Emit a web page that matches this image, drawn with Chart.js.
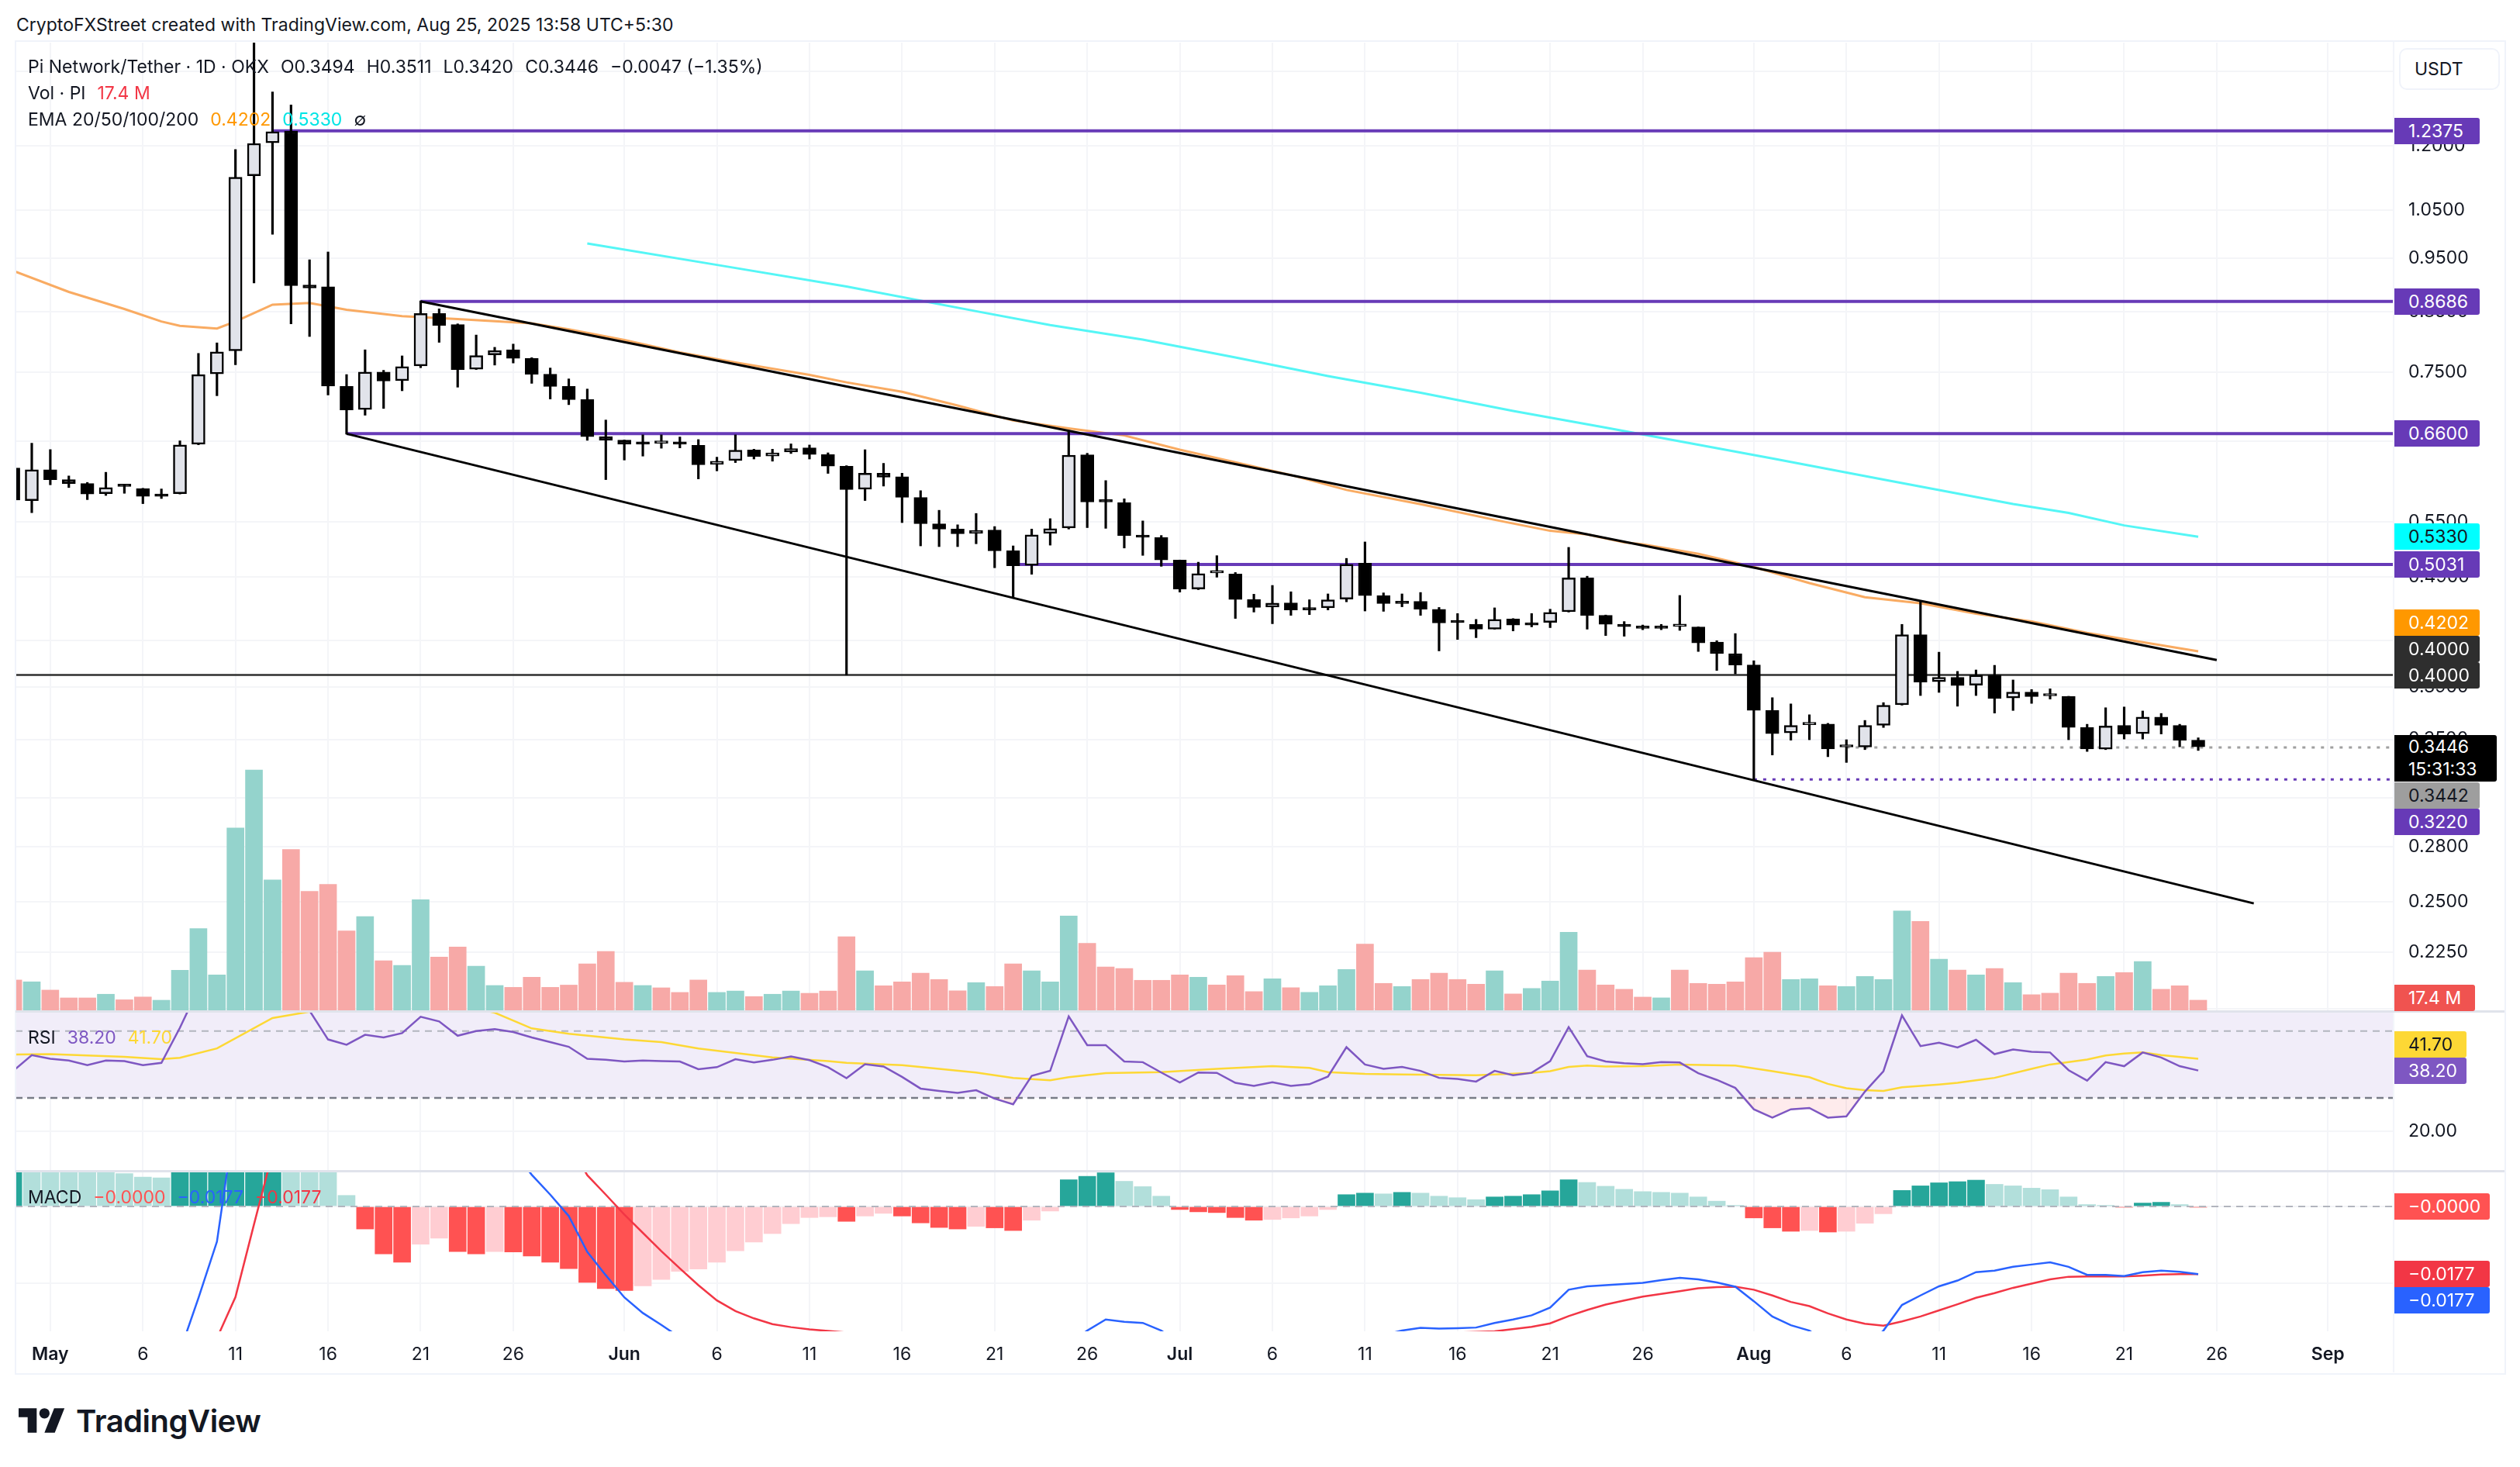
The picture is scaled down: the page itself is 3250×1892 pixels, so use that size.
<!DOCTYPE html>
<html>
<head>
<meta charset="utf-8">
<title>Pi Network/Tether</title>
<script src="https://cdn.jsdelivr.net/npm/chart.js@4/dist/chart.umd.js"></script>
<style>
    html, body { margin: 0; padding: 0; background: #fff; }
    body { width: 3250px; height: 1892px; position: relative; overflow: hidden; font-family: Inter, sans-serif; font-size: 23px; color: #131722; }
    canvas { position: absolute; left: 0; }
    .abs { position: absolute; white-space: nowrap; line-height: 30px; }
    .abs span { margin-left: 15px; }
    .frame { position: absolute; left: 19px; top: 52px; width: 3209px; height: 1717px; border: 2px solid #F0F3FA; }
    .rule { position: absolute; left: 20px; width: 3210px; height: 3px; background: #E0E3EB; }
    .axisline { position: absolute; left: 3086px; top: 54px; width: 2px; height: 1716px; background: #F3F5FA; }
    .usdt { position: absolute; left: 3094px; top: 62px; width: 126px; height: 50px; border: 2px solid #F0F3FA; border-radius: 10px; line-height: 50px; text-indent: 18px; background: #fff; }
    .tag { position: absolute; left: 3088px; height: 34px; line-height: 34px; border-radius: 0 3px 3px 0; padding-left: 18px; box-sizing: border-box; }
    .brand { position: absolute; left: 98px; top: 1810px; font-size: 40px; font-weight: 600; line-height: 46px; letter-spacing: -0.5px; color: #131722; }
</style>
</head>
<body>
<canvas id="priceChart" width="3230" height="1250" style="top:55px"></canvas>
<canvas id="rsiChart" width="3230" height="206" style="top:1305px"></canvas>
<canvas id="macdChart" width="3230" height="260" style="top:1511px"></canvas>
<div class="frame"></div>
<div class="axisline"></div>
<div class="rule" style="top:1303px"></div>
<div class="rule" style="top:1509px"></div>
<div class="usdt">USDT</div>
<div class="abs" style="left:21px;top:17px">CryptoFXStreet created with TradingView.com, Aug 25, 2025 13:58 UTC+5:30</div>
<div class="abs" style="left:36px;top:71px">Pi Network/Tether · 1D · OKX<span>O0.3494</span><span>H0.3511</span><span>L0.3420</span><span>C0.3446</span><span>−0.0047 (−1.35%)</span></div>
<div class="abs" style="left:36px;top:105px">Vol · PI<span style="color:#F23645">17.4 M</span></div>
<div class="abs" style="left:36px;top:139px">EMA 20/50/100/200<span style="color:#FF9800">0.4202</span><span style="color:#00E5E5">0.5330</span><span>∅</span></div>
<div class="abs" style="left:36px;top:1323px">RSI<span style="color:#7E57C2">38.20</span><span style="color:#FDD835">41.70</span></div>
<div class="abs" style="left:36px;top:1529px">MACD<span style="color:#FF5252">−0.0000</span><span style="color:#2962FF">−0.0177</span><span style="color:#F23645">−0.0177</span></div>
<svg style="position:absolute;left:24px;top:1816px" width="60" height="32" viewBox="0 0 36 19">
    <path d="M14 19H7V7H0V0h14v19zM28 19h-8l7.5-19h8L28 19z" fill="#131722"/>
    <circle cx="20" cy="4" r="4" fill="#131722"/>
</svg>
<div class="brand">TradingView</div>
<script>
// x values are day numbers, Apr 30 = 0, first candle is Apr 29
const firstDay = -1;
const tickDays = [1, 6, 11, 16, 21, 26, 32, 37, 42, 47, 52, 57, 62, 67, 72, 77, 82, 87, 93, 98, 103, 108, 113, 118, 124];
const tickLabels = ['May', '6', '11', '16', '21', '26', 'Jun', '6', '11', '16', '21', '26', 'Jul', '6', '11', '16', '21', '26', 'Aug', '6', '11', '16', '21', '26', 'Sep'];
const monthLabels = ['May', 'Jun', 'Jul', 'Aug', 'Sep'];
const priceTicks = [1.4, 1.2, 1.05, 0.95, 0.85, 0.75, 0.65, 0.55, 0.49, 0.43, 0.39, 0.35, 0.31, 0.28, 0.25, 0.225, 0.2];

const opens = [0.6147, 0.5744,
    0.6124, 0.6000, 0.5952, 0.5827, 0.5923, 0.5889, 0.5823, 0.5827, 0.6457, 0.7473, 0.7838, 1.1272, 1.2073, 1.2369, 0.8985, 0.8952, 0.7280, 0.6940, 0.7500, 0.7368, 0.7597, 0.8470, 0.8278, 0.7545, 0.7774, 0.7855, 0.7717, 0.7467, 0.7280, 0.7083, 0.6560,
    0.6512, 0.6466, 0.6471, 0.6466, 0.6442, 0.6192, 0.6243, 0.6381, 0.6300, 0.6353, 0.6410, 0.6320, 0.6170, 0.5881, 0.6080, 0.6035, 0.5783, 0.5475, 0.5415, 0.5367, 0.5403, 0.5176, 0.5022, 0.5367, 0.5427, 0.6317, 0.5736, 0.5720, 0.5343, 0.5319,
    0.5078, 0.4782, 0.4944, 0.4933, 0.4679, 0.4605, 0.4646, 0.4595, 0.4598, 0.4683, 0.5044, 0.4716, 0.4660, 0.4660, 0.4585, 0.4465, 0.4443, 0.4399, 0.4492, 0.4456, 0.4462, 0.4561, 0.4893, 0.4527, 0.4443, 0.4420, 0.4424, 0.4424, 0.4420, 0.4282, 0.4181,
    0.4084, 0.3716, 0.3547, 0.3608, 0.3613, 0.3444, 0.3444, 0.3603, 0.3760, 0.4349, 0.3945, 0.3980, 0.3916, 0.3998, 0.3813, 0.3861, 0.3830, 0.3827, 0.3587, 0.3429, 0.3603, 0.3541, 0.3666, 0.3603, 0.3494];
const highs = [0.6147, 0.6471,
    0.6386, 0.6046, 0.5965, 0.6092, 0.5944, 0.5893, 0.5885, 0.6503, 0.7797, 0.7969, 1.1904, 1.66, 1.3417, 1.3056, 0.9469, 0.9624, 0.7462, 0.7855, 0.7528, 0.7757, 0.8695, 0.8552, 0.8290, 0.8100, 0.7896, 0.7949, 0.7728, 0.7564, 0.7395, 0.7241, 0.6790,
    0.6515, 0.6584, 0.6584, 0.6555, 0.6520, 0.6286, 0.6584, 0.6391, 0.6391, 0.6462, 0.6447, 0.6343, 0.6175, 0.6384, 0.6206, 0.6080, 0.5864, 0.5630, 0.5463, 0.5593, 0.5443, 0.5229, 0.5415, 0.5533, 0.6644, 0.6337, 0.5988, 0.5766, 0.5507, 0.5343,
    0.5078, 0.5055, 0.5124, 0.4948, 0.4730, 0.4817, 0.4754, 0.4676, 0.4733, 0.5095, 0.5272, 0.4743, 0.4733, 0.4747, 0.4602, 0.4544, 0.4489, 0.4598, 0.4497, 0.4544, 0.4585, 0.5213, 0.4910, 0.4530, 0.4469, 0.4437, 0.4443, 0.4718, 0.4420, 0.4295, 0.4359,
    0.4120, 0.3816, 0.3767, 0.3683, 0.3618, 0.3497, 0.3640, 0.3777, 0.4443, 0.4666, 0.4194, 0.4030, 0.4042, 0.4081, 0.3959, 0.3881, 0.3887, 0.3827, 0.3611, 0.3737, 0.3743, 0.3712, 0.3693, 0.3611, 0.3511];
const lows = [0.5752, 0.5602,
    0.5936, 0.5902, 0.5756, 0.5806, 0.5832, 0.5708, 0.5769, 0.5823, 0.6450, 0.7141, 0.7615, 0.9025, 0.9984, 0.8290, 0.8075, 0.7152, 0.6594, 0.6858, 0.6955, 0.7215, 0.7569, 0.7978, 0.7269, 0.7540, 0.7610, 0.7643, 0.7327, 0.7093, 0.7010, 0.6510, 0.6000,
    0.6249, 0.6300, 0.6404, 0.6408, 0.6009, 0.6110, 0.6216, 0.6262, 0.6234, 0.6334, 0.6262, 0.6078, 0.4000, 0.5745, 0.5920, 0.5488, 0.5229, 0.5221, 0.5221, 0.5252, 0.4997, 0.4702, 0.4930, 0.5237, 0.5415, 0.5431, 0.5423, 0.5206, 0.5127, 0.5012,
    0.4751, 0.4775, 0.4900, 0.4498, 0.4558, 0.4449, 0.4527, 0.4534, 0.4578, 0.4656, 0.4568, 0.4565, 0.4608, 0.4527, 0.4205, 0.4306, 0.4322, 0.4399, 0.4383, 0.4420, 0.4413, 0.4558, 0.4399, 0.4341, 0.4335, 0.4394, 0.4394, 0.4388, 0.4200, 0.4038, 0.4009,
    0.3220, 0.3388, 0.3494, 0.3497, 0.3376, 0.3336, 0.3426, 0.3587, 0.3757, 0.3833, 0.3858, 0.3749, 0.3833, 0.3696, 0.3716, 0.3771, 0.3805, 0.3497, 0.3413, 0.3426, 0.3502, 0.3502, 0.3539, 0.3446, 0.3420];
const closes = [0.5752, 0.6124,
    0.6000, 0.5952, 0.5823, 0.5902, 0.5915, 0.5795, 0.5795, 0.6447, 0.7462, 0.7820, 1.1240, 1.2055, 1.2351, 0.8972, 0.8932, 0.7285, 0.6935, 0.7500, 0.7363, 0.7587, 0.8470, 0.8265, 0.7540, 0.7763, 0.7843, 0.7717, 0.7467, 0.7280, 0.7083, 0.6560, 0.6512,
    0.6457, 0.6457, 0.6480, 0.6457, 0.6188, 0.6234, 0.6377, 0.6295, 0.6343, 0.6400, 0.6320, 0.6170, 0.5877, 0.6080, 0.6031, 0.5783, 0.5475, 0.5415, 0.5363, 0.5399, 0.5176, 0.5018, 0.5351, 0.5419, 0.6313, 0.5728, 0.5728, 0.5343, 0.5323, 0.5078,
    0.4782, 0.4937, 0.4951, 0.4679, 0.4602, 0.4643, 0.4578, 0.4578, 0.4676, 0.5033, 0.4716, 0.4639, 0.4639, 0.4585, 0.4456, 0.4459, 0.4399, 0.4489, 0.4436, 0.4436, 0.4554, 0.4893, 0.4527, 0.4443, 0.4423, 0.4407, 0.4407, 0.4430, 0.4276, 0.4181, 0.4084,
    0.3716, 0.3541, 0.3603, 0.3616, 0.3431, 0.3451, 0.3603, 0.3757, 0.4349, 0.3942, 0.3980, 0.3913, 0.3998, 0.3810, 0.3861, 0.3824, 0.3836, 0.3587, 0.3431, 0.3598, 0.3539, 0.3666, 0.3603, 0.3494, 0.3446];

// volume in millions, volumeUp 1 = teal bar, 0 = red bar
const volumes = [52.0, 48.9,
    34.7, 21.3, 21.3, 27.6, 18.1, 22.9, 17.3, 68.6, 140.3, 60.7, 312.8, 412.1, 223.8, 275.8, 204.1, 215.9, 136.3, 160.8, 85.1, 77.2, 189.9, 91.4, 108.7, 75.6, 42.6, 39.4, 56.7, 39.4, 43.3, 79.6, 100.9,
    48.1, 42.6, 38.6, 30.7, 52.0, 30.7, 33.1, 23.6, 27.6, 33.1, 29.2, 33.1, 126.1, 67.6, 42.1, 48.8, 63.6, 52.9, 33.5, 47.5, 40.8, 79.6, 67.6, 48.8, 161.9, 115.1, 74.3, 71.6, 51.5, 51.5,
    60.9, 56.9, 43.5, 59.5, 32.1, 54.2, 38.8, 30.8, 42.1, 70.2, 113.7, 46.2, 40.8, 52.9, 63.6, 52.9, 44.8, 67.6, 28.1, 37.5, 50.2, 133.8, 68.9, 43.5, 36.1, 22.7, 21.4, 68.9, 46.2, 44.8, 48.8,
    90.3, 99.7, 52.9, 54.2, 42.1, 40.8, 58.2, 52.9, 170.6, 152.5, 87.6, 68.9, 60.9, 71.6, 47.5, 26.8, 29.4, 63.6, 46.2, 58.2, 64.9, 83.6, 36.1, 42.1, 17.4];
const volumeUp = [0, 1,
    0, 0, 0, 1, 0, 0, 1, 1, 1, 1, 1, 1, 1, 0, 0, 0, 0, 1, 0, 1, 1, 0, 0, 1, 1, 0, 0, 0, 0, 0, 0,
    0, 1, 0, 0, 0, 1, 1, 0, 1, 1, 0, 0, 0, 1, 0, 0, 0, 0, 0, 1, 0, 0, 1, 1, 1, 0, 0, 0, 0, 0,
    0, 1, 0, 0, 0, 1, 0, 1, 1, 1, 0, 0, 1, 0, 0, 0, 0, 1, 0, 1, 1, 1, 0, 0, 0, 0, 1, 0, 0, 0, 0,
    0, 0, 1, 1, 0, 1, 1, 1, 1, 0, 1, 0, 1, 0, 1, 0, 0, 0, 0, 1, 0, 1, 0, 0, 0];

const ema50Days = [-1, 2, 5, 7, 8, 10, 11, 13, 15, 17, 20, 23, 27, 29, 32, 35, 38, 42, 44, 47, 50, 53, 56, 59, 62, 65, 68, 71, 75, 79, 82, 84, 86, 87, 90, 93, 96, 99, 102, 105, 108, 111, 114, 117];
const ema50Values = [0.9255, 0.8858, 0.8550, 0.8331, 0.8257, 0.8209, 0.8331, 0.8626, 0.8657, 0.8537, 0.8423, 0.8374, 0.8299, 0.8197, 0.8017, 0.7812, 0.7652, 0.7457, 0.7342, 0.7201, 0.6997, 0.6783, 0.6674, 0.6576, 0.6384, 0.6221, 0.6058, 0.5873, 0.5702, 0.5520, 0.5395, 0.5354, 0.5268, 0.5247, 0.5143, 0.5005, 0.4841, 0.4700, 0.4642, 0.4543, 0.4470, 0.4365, 0.4282, 0.4202];
const ema200Days = [30, 37, 44, 51, 55, 60, 65, 70, 75, 80, 85, 94, 100, 107, 110, 113, 117];
const ema200Values = [0.9795, 0.9369, 0.8957, 0.8510, 0.8268, 0.8022, 0.7731, 0.7439, 0.7185, 0.6920, 0.6683, 0.6270, 0.6000, 0.5704, 0.5600, 0.5456, 0.5330];

const levelValues = [1.2375, 0.8686, 0.66, 0.5031];
const levelStartDays = [13, 21, 17, 53];
const upperTrendDays = [21, 118];
const upperTrendValues = [0.8686, 0.4126];
const lowerTrendDays = [17, 120];
const lowerTrendValues = [0.66, 0.249];
const supportValue = 0.4;
const swingLowValue = 0.322;
const swingLowStart = 93;
const lastLineValue = 0.3442;
const lastLineStart = 98;

const rsiValues = [38.1, 42.8, 41.7, 41.2, 39.8, 41.2, 41.0, 39.8, 40.5, 51.0, 62.7, 65.0, 74.0, 72.0, 72.0, 62.0, 56.1, 47.5, 45.9, 48.9, 48.1, 49.4, 54.3, 52.9, 48.6, 50.0, 50.6, 49.7, 48.1, 46.7, 45.3, 41.7, 41.4, 40.9, 41.2, 41.0, 40.9, 38.6, 39.2, 41.6, 40.6, 41.4, 42.4, 41.3, 39.2, 35.9,
    40.1, 39.4, 36.3, 32.8, 32.1, 31.5, 32.3, 29.8, 28.1, 36.6, 38.1, 54.4, 45.8, 45.8, 40.9, 40.7, 37.6, 34.6, 37.6, 37.5, 34.5, 33.6, 34.7, 33.6, 34.1, 36.4, 45.2, 40.0, 38.7, 39.3, 38.1, 36.0, 35.7, 34.9, 38.1, 36.8, 37.5, 41.0, 51.2, 42.5, 40.9, 40.4, 40.1, 40.7, 40.6,
    37.4, 35.4, 33.0, 26.6, 24.1, 26.6, 27.0, 24.1, 24.5, 31.9, 38.0, 54.7, 45.5, 46.5, 45.1, 47.4, 43.1, 44.5, 43.8, 43.6, 38.3, 35.2, 40.7, 39.5, 43.6, 42.1, 39.5, 38.2];
const rsiMaDays = [-1, 1, 5, 7, 8, 10, 13, 15, 17, 20, 23, 25, 27, 29, 32, 34, 36, 40, 43, 44, 47, 49, 51, 53, 55, 56, 58, 61, 64, 67, 69, 70, 72, 74, 78, 81, 82, 83, 84, 85, 87, 89, 92, 94, 96, 97, 98, 99, 100, 101, 103, 104, 105, 106, 108, 109, 111, 112, 113, 114, 115, 117];
const rsiMaValues = [43.0, 43.1, 42.3, 41.6, 42.0, 44.8, 53.9, 55.8, 58.0, 59.0, 58.0, 55.5, 50.8, 49.2, 47.5, 46.7, 44.8, 42.1, 41.0, 40.5, 39.8, 38.7, 37.6, 36.0, 35.3, 36.2, 37.4, 37.7, 38.7, 39.5, 39.0, 37.7, 37.2, 37.0, 36.8, 37.5, 38.0, 39.3, 39.7, 39.4, 39.5, 40.0, 39.7, 38.0, 36.2, 34.2, 32.9, 32.3, 32.1, 33.2, 34.0, 34.5, 35.3, 36.0, 38.7, 40.0, 41.5, 42.7, 43.3, 43.6, 42.8, 41.7];
const rsiTicks = [40, 20];
const rsiUpperBand = 50;
const rsiLowerBand = 30;

const macdHist = [0.0120, 0.0115, 0.0110, 0.0105, 0.0100, 0.0098, 0.0086, 0.0077, 0.0075, 0.0140, 0.0180, 0.0220, 0.0280, 0.0340, 0.0360, 0.0300, 0.0200, 0.0100, 0.0029, -0.0059, -0.0124, -0.0146, -0.0099, -0.0083, -0.0118, -0.0124, -0.0118, -0.0119, -0.0130, -0.0146, -0.0163, -0.0199, -0.0215, -0.0220, -0.0208, -0.0191, -0.0170, -0.0164, -0.0146, -0.0116, -0.0093, -0.0071, -0.0045, -0.0029, -0.0027, -0.0039,
    -0.0025, -0.0018, -0.0025, -0.0043, -0.0055, -0.0059, -0.0052, -0.0056, -0.0063, -0.0036, -0.0012, 0.0070, 0.0079, 0.0088, 0.0066, 0.0052, 0.0027, -0.0008, -0.0014, -0.0016, -0.0029, -0.0036, -0.0034, -0.0030, -0.0025, -0.0008, 0.0031, 0.0035, 0.0033, 0.0037, 0.0035, 0.0027, 0.0023, 0.0018, 0.0025, 0.0027, 0.0031, 0.0041, 0.0070, 0.0063, 0.0053, 0.0045, 0.0039, 0.0037, 0.0035,
    0.0025, 0.0014, 0.0003, -0.0030, -0.0056, -0.0065, -0.0063, -0.0067, -0.0065, -0.0044, -0.0019, 0.0042, 0.0054, 0.0062, 0.0065, 0.0069, 0.0058, 0.0054, 0.0048, 0.0044, 0.0025, 0.0005, 0.0003, -0.0002, 0.0009, 0.0011, 0.0005, -0.0002];
const macdLineDays = [7, 8, 9, 10, 11, 12, 13, 20, 26, 27, 28, 29, 30, 31, 32, 33, 34, 35, 40, 45, 50, 55, 56, 57, 58, 59, 60, 61, 62, 65, 70, 74, 75, 76, 77, 78, 79, 80, 81, 82, 83, 84, 85, 86, 87, 88, 89, 90, 91, 92, 93, 94, 95, 96, 97, 98, 99, 100, 101, 102, 103, 104, 105, 106, 107, 108, 109, 110, 111, 112, 113, 114, 115, 116, 117];
const macdLineValues = [-0.0400, -0.0380, -0.0240, -0.0092, 0.0243, 0.0340, 0.0400, 0.0400, 0.0146, 0.0083, 0.0031, -0.0025, -0.0119, -0.0180, -0.0238, -0.0279, -0.0310, -0.0343, -0.0420, -0.0450, -0.0450, -0.0370, -0.0360, -0.0325, -0.0296, -0.0302, -0.0305, -0.0325, -0.0360, -0.0400, -0.0370, -0.0325, -0.0318, -0.0320, -0.0319, -0.0317, -0.0305, -0.0296, -0.0285, -0.0265, -0.0218, -0.0209, -0.0206, -0.0203, -0.0200, -0.0193, -0.0187, -0.0191, -0.0199, -0.0210, -0.0248, -0.0288, -0.0311, -0.0325, -0.0360, -0.0380, -0.0370, -0.0325, -0.0258, -0.0233, -0.0209, -0.0194, -0.0172, -0.0168, -0.0158, -0.0152, -0.0146, -0.0158, -0.0179, -0.0179, -0.0182, -0.0172, -0.0168, -0.0171, -0.0177];
const macdSignalDays = [9, 10, 11, 12, 13, 14, 20, 29, 30, 31, 32, 33, 34, 35, 36, 37, 38, 39, 40, 41, 42, 43, 44, 50, 60, 70, 79, 81, 82, 83, 84, 85, 86, 87, 88, 89, 90, 91, 92, 93, 94, 95, 96, 97, 98, 99, 100, 101, 102, 103, 104, 105, 106, 107, 108, 109, 110, 111, 112, 113, 114, 115, 116, 117];
const macdSignalValues = [-0.0440, -0.0345, -0.0237, -0.0047, 0.0140, 0.0300, 0.0500, 0.0165, 0.0082, 0.0031, -0.0021, -0.0069, -0.0117, -0.0162, -0.0206, -0.0246, -0.0274, -0.0293, -0.0308, -0.0316, -0.0322, -0.0326, -0.0330, -0.0345, -0.0350, -0.0340, -0.0327, -0.0315, -0.0306, -0.0287, -0.0271, -0.0257, -0.0246, -0.0236, -0.0229, -0.0222, -0.0214, -0.0211, -0.0210, -0.0218, -0.0233, -0.0250, -0.0261, -0.0280, -0.0296, -0.0307, -0.0312, -0.0301, -0.0288, -0.0272, -0.0256, -0.0239, -0.0227, -0.0213, -0.0202, -0.0191, -0.0184, -0.0183, -0.0183, -0.0183, -0.0181, -0.0178, -0.0177, -0.0177];
const macdTicks = [0, -0.02];

const xMin = -0.879;
const xMax = 127.51;
const gridColor = '#F4F5F8';
const fontFamily = 'Inter';
const textColor = '#131722';

Chart.defaults.font.family = fontFamily;
Chart.defaults.font.size = 23;
Chart.defaults.color = textColor;

const points = (xs, ys) => xs.map((x, i) => ({ x, y: ys[i] }));
const series = values => values.map((y, i) => ({ x: i + firstDay, y }));
const hline = (value, start) => [{ x: start, y: value }, { x: xMax, y: value }];

const lineSet = (data, color, width, order, extra) => ({
    type: 'line',
    data,
    borderColor: color,
    borderWidth: width,
    pointRadius: 0,
    tension: 0,
    fill: false,
    order,
    ...extra,
});

const xAxis = showLabels => ({
    type: 'linear',
    min: xMin,
    max: xMax,
    offset: false,
    grid: { color: gridColor, lineWidth: 2, drawTicks: false, offset: false },
    border: { display: false },
    afterBuildTicks: scale => { scale.ticks = tickDays.map(value => ({ value })); },
    afterFit: scale => {
        scale.height = showLabels ? 54 : 0;
        scale.paddingLeft = 0;
        scale.paddingRight = 0;
    },
    ticks: {
        display: showLabels,
        autoSkip: false,
        maxRotation: 0,
        padding: 16,
        callback: value => tickLabels[tickDays.indexOf(value)],
        font: ctx => {
            const label = ctx.tick ? tickLabels[tickDays.indexOf(ctx.tick.value)] : '';
            return { family: fontFamily, size: 23, weight: monthLabels.includes(label) ? '600' : '400' };
        },
    },
});

const rightAxis = (min, max, tickValues, digits) => ({
    type: 'linear',
    position: 'right',
    min,
    max,
    grid: { color: gridColor, lineWidth: 2, drawTicks: false },
    border: { display: false },
    afterBuildTicks: scale => { scale.ticks = tickValues.map(value => ({ value })); },
    afterFit: scale => {
        scale.width = 144;
        scale.paddingTop = 0;
        scale.paddingBottom = 0;
    },
    ticks: {
        autoSkip: false,
        padding: 20,
        callback: value => value.toFixed(digits),
    },
});

const baseOptions = scales => ({
    responsive: false,
    animation: false,
    devicePixelRatio: 1,
    layout: { padding: { left: 20, right: 0, top: 0, bottom: 0 } },
    plugins: { legend: { display: false }, tooltip: { enabled: false } },
    events: [],
    scales,
});

const barSet = (data, width, colors, order, extra) => ({
    type: 'bar',
    data,
    backgroundColor: colors,
    grouped: false,
    barPercentage: 1,
    categoryPercentage: 1,
    maxBarThickness: width,
    order,
    ...extra,
});

const priceChart = new Chart(document.getElementById('priceChart'), {
    type: 'bar',
    data: {
        datasets: [
            barSet(series(volumes), 22, volumeUp.map(up => (up ? '#94D3CC' : '#F7A9A7')), 20, { yAxisID: 'yVol' }),
            lineSet(points(ema50Days, ema50Values), '#F9AB62', 3, 10),
            lineSet(points(ema200Days, ema200Values), '#55F6F6', 3, 10),
            ...levelValues.map((value, i) => lineSet(hline(value, levelStartDays[i]), '#673AB7', 4, 9)),
            lineSet(hline(supportValue, xMin), '#2E2E2E', 2.5, 9),
            lineSet(hline(swingLowValue, swingLowStart), '#673AB7', 3, 9, { borderDash: [4, 8] }),
            lineSet(hline(lastLineValue, lastLineStart), '#A0A0A0', 3, 9, { borderDash: [4, 8] }),
            lineSet(points(upperTrendDays, upperTrendValues), '#000000', 3, 8),
            lineSet(points(lowerTrendDays, lowerTrendValues), '#000000', 3, 8),
            barSet(lows.map((low, i) => ({ x: i + firstDay, y: [low, highs[i]] })), 2.5, '#000000', 3),
            barSet(opens.map((open, i) => ({ x: i + firstDay, y: [open, closes[i]] })), 17,
                opens.map((open, i) => (closes[i] > open ? '#E1E3EA' : '#000000')), 2,
                { borderColor: '#000000', borderWidth: 2.5, borderSkipped: false, minBarLength: 3 }),
        ],
    },
    options: baseOptions({
        x: xAxis(false),
        y: {
            ...rightAxis(0.1988, 1.486, priceTicks, 4),
            type: 'logarithmic',
        },
        yVol: { type: 'linear', display: false, min: -2.66, max: 1660 },
    }),
});

const rsiChart = new Chart(document.getElementById('rsiChart'), {
    type: 'bar',
    data: {
        datasets: [
            lineSet(hline(rsiLowerBand, xMin), '#787B86', 2.5, 12, { borderDash: [9, 6], fill: 'end', backgroundColor: '#F1EDF9' }),
            lineSet(hline(rsiUpperBand, xMin), '#B2B5BE', 2, 11, { borderDash: [9, 7] }),
            lineSet(series(rsiValues), '#7E57C2', 2.5, 2, {
                fill: { target: { value: rsiLowerBand }, above: 'rgba(0,0,0,0)', below: 'rgba(242,54,69,0.1)' },
            }),
            lineSet(points(rsiMaDays, rsiMaValues), '#FDD835', 2.5, 3),
        ],
    },
    options: baseOptions({
        x: xAxis(false),
        y: rightAxis(7.96, 55.75, rsiTicks, 2),
    }),
});

// bar colour follows the sign and the direction of the histogram
const histColors = macdHist.map((value, i) => {
    const rising = i === 0 || value >= macdHist[i - 1];
    if (value >= 0) return rising ? '#26A69A' : '#B2DFDB';
    return rising ? '#FFCDD2' : '#FF5252';
});

const macdChart = new Chart(document.getElementById('macdChart'), {
    type: 'bar',
    data: {
        datasets: [
            barSet(series(macdHist), 22, histColors, 10),
            lineSet(hline(0, xMin), '#B2B5BE', 2, 5, { borderDash: [9, 7] }),
            lineSet(points(macdSignalDays, macdSignalValues), '#F23645', 2.5, 3),
            lineSet(points(macdLineDays, macdLineValues), '#2962FF', 2.5, 2),
        ],
    },
    options: baseOptions({
        x: xAxis(true),
        y: {
            ...rightAxis(-0.03269, 0.00914, macdTicks, 4),
            ticks: { autoSkip: false, padding: 20, callback: () => '' },
        },
    }),
});

const addTag = (text, chart, axisId, value, canvasTop, shift, width, background, color) => {
    const tag = document.createElement('div');
    tag.className = 'tag';
    tag.textContent = text;
    const center = chart.scales[axisId].getPixelForValue(value) + canvasTop + shift;
    tag.style.cssText = `top:${center - 17}px;width:${width}px;background:${background};color:${color}`;
    document.body.appendChild(tag);
};

addTag('1.2375', priceChart, 'y', 1.2375, 55, 0, 110, '#673AB7', '#fff');
addTag('0.8686', priceChart, 'y', 0.8686, 55, 0, 110, '#673AB7', '#fff');
addTag('0.6600', priceChart, 'y', 0.66, 55, 0, 110, '#673AB7', '#fff');
addTag('0.5330', priceChart, 'y', 0.533, 55, 0, 110, '#00FFFF', textColor);
addTag('0.5031', priceChart, 'y', 0.5031, 55, 0, 110, '#673AB7', '#fff');
addTag('0.4202', priceChart, 'y', 0.4202, 55, -37, 110, '#FF9800', '#fff');
addTag('0.4000', priceChart, 'y', 0.4, 55, -34, 110, '#2E2E2E', '#fff');
addTag('0.4000', priceChart, 'y', 0.4, 55, 0, 110, '#2E2E2E', '#fff');
addTag('0.3442', priceChart, 'y', 0.3442, 55, 62, 110, '#9E9E9E', textColor);
addTag('0.3220', priceChart, 'y', 0.322, 55, 55, 110, '#673AB7', '#fff');
addTag('17.4 M', priceChart, 'yVol', 17.4, 55, -3, 104, '#F05350', '#fff');
addTag('41.70', rsiChart, 'y', 41.7, 1305, -19, 93, '#FDD835', textColor);
addTag('38.20', rsiChart, 'y', 38.2, 1305, 0, 93, '#7E57C2', '#fff');
addTag('−0.0000', macdChart, 'y', 0, 1511, 0, 123, '#FF5252', '#fff');
addTag('−0.0177', macdChart, 'y', -0.0177, 1511, 0, 123, '#F23645', '#fff');
addTag('−0.0177', macdChart, 'y', -0.0177, 1511, 34, 123, '#2962FF', '#fff');

// countdown box sits under the last price
const lastBox = document.createElement('div');
lastBox.className = 'tag';
lastBox.style.cssText = 'top:948px;width:132px;height:60px;line-height:29px;background:#000;color:#fff;padding-top:1px';
lastBox.innerHTML = '0.3446<br>15:31:33';
document.body.appendChild(lastBox);
</script>
</body>
</html>
